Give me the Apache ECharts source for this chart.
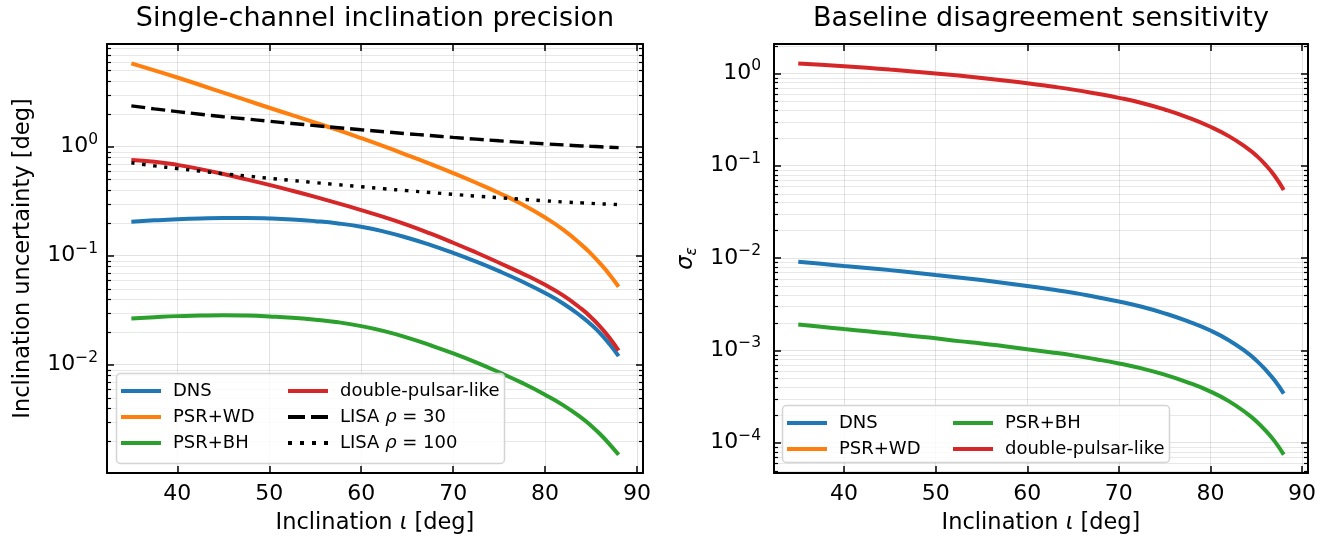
<!DOCTYPE html>
<html><head><meta charset="utf-8">
<script src="https://cdn.jsdelivr.net/npm/echarts@6/dist/echarts.min.js"></script>
<style>html,body{margin:0;padding:0;background:#fff}#c{width:1327px;height:536px}</style>
</head><body><div id="c"></div>
<script>
// ---- data ----
const inclination = [35,37.5,40,42.5,45,47.5,50,52.5,55,57.5,60,62.5,65,67.5,70,72.5,75,77.5,80,82,84,85,86,87,88];
// left panel: single-channel inclination uncertainty [deg]
const incDNS   = [0.2051,0.2109,0.2158,0.2193,0.2213,0.2213,0.2193,0.2148,0.2075,0.1977,0.1841,0.1663,0.1462,0.1256,0.1059,0.0881,0.0721,0.0579,0.0454,0.0362,0.0275,0.0234,0.0194,0.0155,0.0120];
const incPSRWD = [5.82,5.02,4.31,3.68,3.13,2.67,2.275,1.945,1.663,1.416,1.197,1.005,0.838,0.695,0.573,0.467,0.376,0.296,0.224,0.1726,0.125,0.1040,0.0847,0.0673,0.0519];
const incPSRBH = [0.0266,0.0273,0.0279,0.0282,0.0284,0.0282,0.0277,0.0270,0.0259,0.0245,0.0226,0.0203,0.0177,0.0151,0.0127,0.0105,0.00851,0.00681,0.00531,0.00424,0.00324,0.00276,0.00230,0.00187,0.00149];
const incDPL   = [0.755,0.728,0.681,0.622,0.561,0.501,0.446,0.394,0.346,0.302,0.262,0.226,0.192,0.160,0.1315,0.1069,0.0861,0.0689,0.0540,0.0430,0.0323,0.0272,0.0223,0.0177,0.0135];
const lisaRho30  = [2.371,2.223,2.099,1.986,1.884,1.795,1.710,1.633,1.560,1.493,1.429,1.371,1.315,1.265,1.216,1.172,1.132,1.096,1.062,1.038,1.016,1.007,0.998,0.989,0.980];
const lisaRho100 = [0.711,0.667,0.630,0.596,0.565,0.539,0.513,0.490,0.468,0.448,0.429,0.411,0.395,0.380,0.365,0.352,0.340,0.329,0.319,0.311,0.305,0.302,0.299,0.297,0.294];
// right panel: baseline disagreement sensitivity sigma_eps
const epsDNS   = [0.00910,0.00865,0.00822,0.00782,0.00740,0.00698,0.00656,0.00617,0.00577,0.00537,0.00498,0.00459,0.00421,0.00379,0.00339,0.00297,0.00252,0.00207,0.00164,0.00129,0.000946,0.000780,0.000619,0.000474,0.000340];
const epsPSRWD = [];
const epsPSRBH = [0.00191,0.00180,0.00170,0.00161,0.00152,0.00143,0.00135,0.00126,0.00119,0.00111,0.00103,0.000957,0.000883,0.000802,0.000721,0.000638,0.000546,0.000451,0.000358,0.000282,0.000207,0.000171,0.000136,0.000104,0.0000743];
const epsDPL   = [1.282,1.239,1.194,1.148,1.099,1.050,0.998,0.946,0.893,0.838,0.782,0.724,0.667,0.605,0.543,0.478,0.406,0.334,0.264,0.209,0.155,0.129,0.1028,0.0778,0.0545];
// axes
const xRange = [32.35, 90.65];
const leftYRange = [1.015e-3, 8.75];
const rightYRange = [4.7e-5, 2.08];
const leftDecades = [-3,-2,-1,0];
const rightDecades = [-5,-4,-3,-2,-1,0];
const minorMultipliers = [2,3,4,5,6,7,8,9];

const C = {blue:'#1f77b4', orange:'#ff7f0e', green:'#2ca02c', red:'#d62728', black:'#000000'};
const FONT = 'DejaVu Sans';

function pairs(ys){ return ys.map((y,i)=>[inclination[i], y]); }
function minorValues(decades, range){
  const out = [];
  decades.forEach(d => minorMultipliers.forEach(m => {
    const v = m*Math.pow(10,d);
    if (v > range[0] && v < range[1]) out.push([xRange[0], v]);
  }));
  return out;
}
function logLabel(v){
  const e = Math.log10(v);
  const r = Math.round(e);
  if (Math.abs(e-r) > 1e-6) return '';
  return '{b|10}{s|' + (r < 0 ? '\u2212' + (-r) : r) + '}';
}
const labelRich = {
  b:{fontFamily:FONT, fontSize:22, lineHeight:22, verticalAlign:'bottom', color:'#000'},
  s:{fontFamily:FONT, fontSize:15.5, lineHeight:15, verticalAlign:'bottom', padding:[0,0,10,0], color:'#000'}
};
const axisLine = {show:true, onZero:false, lineStyle:{color:'#000', width:2}};
const majorTick = {show:true, inside:true, length:7, lineStyle:{color:'#000', width:1.5}};
const gridLine = {show:true, lineStyle:{color:'rgba(0,0,0,0.11)', width:1}};

function xAxes(gi){
  return [
    {gridIndex:gi, type:'value', position:'bottom', min:xRange[0], max:xRange[1], splitNumber:5,
     axisLine, axisTick:majorTick, splitLine:gridLine,
     axisLabel:{show:true, margin:10, fontFamily:FONT, fontSize:22, color:'#000', showMinLabel:false, showMaxLabel:false,
       formatter:v => (Math.abs(v - Math.round(v)) < 1e-6 && Math.round(v) % 10 === 0) ? String(Math.round(v)) : ''},
     name:'Inclination {i|\u03b9} [deg]', nameLocation:'middle', nameGap:39,
     nameTextStyle:{fontFamily:FONT, fontSize:22.5, color:'#000', rich:{i:{fontFamily:FONT, fontSize:22.5, fontStyle:'italic', color:'#000'}}}},
    {gridIndex:gi, type:'value', position:'top', min:xRange[0], max:xRange[1], splitNumber:5,
     axisLine, axisTick:majorTick, splitLine:{show:false}, axisLabel:{show:false}}
  ];
}
function yAxes(gi, range, margin, name, nameGap, nameRich){
  return [
    {gridIndex:gi, type:'log', logBase:10, position:'left', min:range[0], max:range[1],
     axisLine, axisTick:majorTick, splitLine:gridLine,
     axisLabel:{show:true, margin, formatter:logLabel, rich:labelRich, showMinLabel:true, showMaxLabel:true},
     name, nameLocation:'middle', nameGap, nameRotate:90,
     nameTextStyle:{fontFamily:FONT, fontSize:22.5, color:'#000', rich:nameRich}},
    {gridIndex:gi, type:'log', logBase:10, position:'right', min:range[0], max:range[1],
     axisLine, axisTick:majorTick, splitLine:{show:false}, axisLabel:{show:false}}
  ];
}
function minorSeries(xi, yi, decades, range){
  return {
    type:'custom', xAxisIndex:xi, yAxisIndex:yi, z:1, silent:true, clip:false,
    data:minorValues(decades, range),
    renderItem:(params, api) => {
      const v = api.value(1);
      const a = api.coord([xRange[0], v]);
      const b = api.coord([xRange[1], v]);
      const y = Math.round(a[1]) + 0.5;
      return {type:'group', children:[
        {type:'line', shape:{x1:a[0], y1:y, x2:b[0], y2:y}, style:{stroke:'rgba(0,0,0,0.09)', lineWidth:1}},
        {type:'line', shape:{x1:a[0], y1:y, x2:a[0]+4, y2:y}, style:{stroke:'#000', lineWidth:1.2}},
        {type:'line', shape:{x1:b[0]-4, y1:y, x2:b[0], y2:y}, style:{stroke:'#000', lineWidth:1.2}}
      ]};
    }
  };
}
function lineSeries(name, xi, yi, ys, color, type, width){
  return {
    name, type:'line', xAxisIndex:xi, yAxisIndex:yi, data:pairs(ys), showSymbol:false, symbol:'none',
    smooth:0.5, z:3, silent:true,
    lineStyle:{color, width, type:type || 'solid', cap:'butt'}, itemStyle:{color}
  };
}

const ICON_SOLID = 'path://M0,0h40v4h-40z';
const ICON_DASH = 'path://M0,0h17v4h-17zM23,0h17v4h-17z';
const ICON_DOT = 'path://M0,0h4v4h-4zM12,0h4v4h-4zM24,0h4v4h-4zM36,0h4v4h-4z';
const legendText = {fontFamily:FONT, fontSize:18, color:'#000', lineHeight:20, padding:[0,0,0,7],
  rich:{n:{fontFamily:FONT, fontSize:18, color:'#000'}, g:{fontFamily:FONT, fontSize:18, fontStyle:'italic', color:'#000'}}};
function legendFormatter(name){
  if (name.indexOf('LISA') === 0){
    const num = name.split('= ')[1];
    return '{n|LISA }{g|\u03c1}{n| = ' + num + '}';
  }
  return name;
}
function iconFor(name){
  if (name === 'LISA \u03c1 = 30') return ICON_DASH;
  if (name === 'LISA \u03c1 = 100') return ICON_DOT;
  return ICON_SOLID;
}
function legend(names, left, top){
  return {show:true, orient:'vertical', left, top, padding:0, itemGap:6, itemWidth:40, itemHeight:14,
    symbolKeepAspect:true,
    data:names.map(n => ({name:n, icon:iconFor(n)})), textStyle:legendText, formatter:legendFormatter, selectedMode:false, z:5};
}

const option = {
  animation:false,
  backgroundColor:'#fff',
  grid:[
    {left:107, top:44, width:536, height:429, outerBoundsMode:'none', containLabel:false},
    {left:774, top:44, width:534, height:429, outerBoundsMode:'none', containLabel:false}
  ],
  xAxis:[...xAxes(0), ...xAxes(1)],
  yAxis:[
    ...yAxes(0, leftYRange, 9, 'Inclination uncertainty [deg]', 72, {}),
    ...yAxes(1, rightYRange, 13, '{s|\u03c3}{e|\u03b5}', 73,
      {s:{fontFamily:FONT, fontSize:22.5, fontStyle:'italic', color:'#000', verticalAlign:'top', lineHeight:26},
       e:{fontFamily:FONT, fontSize:15.5, fontStyle:'italic', color:'#000', verticalAlign:'top', padding:[9,0,0,0], lineHeight:15}})
  ],
  legend:[
    legend(['DNS','PSR+WD','PSR+BH'], 121, 381),
    legend(['double-pulsar-like','LISA \u03c1 = 30','LISA \u03c1 = 100'], 288, 381),
    legend(['DNS','PSR+WD'], 787, 413),
    legend(['PSR+BH','double-pulsar-like'], 953, 413)
  ],
  graphic:[
    {type:'text', x:375, y:19, z:10, style:{text:'Single-channel inclination precision', font:'27px "DejaVu Sans"', fill:'#000', align:'center', verticalAlign:'middle'}},
    {type:'text', x:1041, y:19, z:10, style:{text:'Baseline disagreement sensitivity', font:'27px "DejaVu Sans"', fill:'#000', align:'center', verticalAlign:'middle'}},
    {type:'rect', z:4, shape:{x:116.5, y:373.5, width:388, height:90, r:4}, style:{fill:'rgba(255,255,255,0.8)', stroke:'#d4d4d4', lineWidth:1.5}},
    {type:'rect', z:4, shape:{x:782.5, y:405.5, width:387, height:57, r:4}, style:{fill:'rgba(255,255,255,0.8)', stroke:'#d4d4d4', lineWidth:1.5}}
  ],
  series:[
    minorSeries(0, 0, leftDecades, leftYRange),
    minorSeries(2, 2, rightDecades, rightYRange),
    lineSeries('DNS', 0, 0, incDNS, C.blue, 'solid', 4),
    lineSeries('PSR+WD', 0, 0, incPSRWD, C.orange, 'solid', 4),
    lineSeries('PSR+BH', 0, 0, incPSRBH, C.green, 'solid', 4),
    lineSeries('double-pulsar-like', 0, 0, incDPL, C.red, 'solid', 4),
    lineSeries('LISA \u03c1 = 30', 0, 0, lisaRho30, C.black, [14,6], 3.4),
    lineSeries('LISA \u03c1 = 100', 0, 0, lisaRho100, C.black, [3.4,7.6], 3.4),
    lineSeries('DNS', 2, 2, epsDNS, C.blue, 'solid', 4),
    lineSeries('PSR+WD', 2, 2, epsPSRWD, C.orange, 'solid', 4),
    lineSeries('PSR+BH', 2, 2, epsPSRBH, C.green, 'solid', 4),
    lineSeries('double-pulsar-like', 2, 2, epsDPL, C.red, 'solid', 4)
  ]
};
const chart = echarts.init(document.getElementById('c'), null, {renderer:'canvas'});
chart.setOption(option);
</script>
</body></html>
